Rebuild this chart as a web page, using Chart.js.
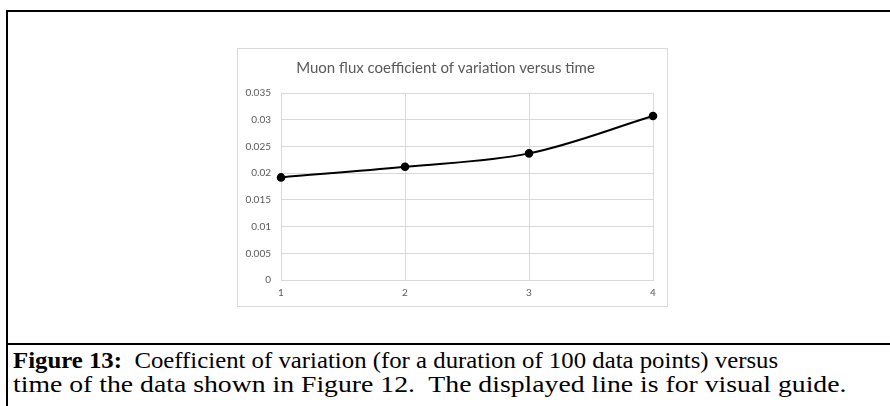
<!DOCTYPE html>
<html>
<head>
<meta charset="utf-8">
<script src="https://cdn.jsdelivr.net/npm/chart.js@4"></script>
<style>
  html, body { margin: 0; padding: 0; background: #fff; }
  body { width: 890px; height: 406px; position: relative; overflow: hidden; }
  #frame {
    position: absolute; left: 6px; top: 10px; width: 900px; height: 420px;
    border-top: 2px solid #000; border-left: 2px solid #000; box-sizing: border-box;
  }
  #sep { position: absolute; left: 6px; top: 343px; width: 900px; height: 2px; background: #000; }
  #box {
    position: absolute; left: 237px; top: 48px; width: 429px; height: 257px;
    border: 1px solid #d9d9d9;
  }
  .cap {
    position: absolute; left: 13px; display: inline-block;
    font-family: "Liberation Serif", "Times New Roman", serif; font-size: 23px;
    line-height: 24px; color: #000; white-space: nowrap;
    transform-origin: 0 0;
  }
  #cap1 { top: 349px; }
  #cap2 { top: 373px; }
</style>
</head>
<body>
<div id="frame"></div>
<div id="sep"></div>
<div id="box"><canvas id="myChart"></canvas></div>
<span class="cap" id="cap1" data-w="765"><b>Figure 13:</b>&nbsp; Coefficient of variation (for a duration of 100 data points) versus</span>
<span class="cap" id="cap2" data-w="833">time of the data shown in Figure 12.&nbsp; The displayed line is for visual guide.</span>
<script>
// chart data
const timeLabels = ['1', '2', '3', '4'];
const cvValues = [0.0192, 0.0212, 0.0237, 0.0307];
const yTicks = [0, 0.005, 0.01, 0.015, 0.02, 0.025, 0.03, 0.035];
const yTickLabels = ['0', '0.005', '0.01', '0.015', '0.02', '0.025', '0.03', '0.035'];
const chartTitle = 'Muon flux coefficient of variation versus time';

const gridColor = '#d9d9d9';
const textColor = '#595959';

// the scanned caption is stretched sideways, so fit each line to its width
document.querySelectorAll('.cap').forEach(el => {
    const w = Number(el.dataset.w);
    el.style.transform = 'scaleX(' + (w / el.offsetWidth) + ')';
});

new Chart('myChart', {
    type: 'line',
    data: {
        labels: timeLabels,
        datasets: [
            {
                data: cvValues,
                borderColor: '#000',
                backgroundColor: '#000',
                borderWidth: 2,
                tension: 0.35,
                pointRadius: 3.3,
                pointHoverRadius: 3.3,
                fill: false,
            }
        ],
    },
    options: {
        responsive: true,
        maintainAspectRatio: false,
        animation: false,
        layout: { padding: { left: 0, right: 14, top: 0, bottom: 0 } },
        plugins: {
            legend: { display: false },
            tooltip: { enabled: false },
            title: {
                display: true,
                text: chartTitle,
                color: textColor,
                font: { family: 'Lato', size: 15, weight: 'normal' },
                padding: { top: 10, bottom: 16 },
            },
        },
        scales: {
            x: {
                offset: false,
                grid: { color: gridColor, drawTicks: false, offset: false },
                border: { color: gridColor },
                ticks: { color: textColor, font: { family: 'Lato', size: 10 }, padding: 7, maxRotation: 0 },
                afterFit: function (scale) { scale.height = 26; },
            },
            y: {
                min: 0,
                max: 0.035,
                grid: { color: gridColor, drawTicks: false },
                border: { color: gridColor },
                afterBuildTicks: function (scale) {
                    scale.ticks = yTicks.map(v => ({ value: v }));
                },
                ticks: {
                    color: textColor,
                    font: { family: 'Lato', size: 10 },
                    padding: 10,
                    callback: function (value) {
                        const i = yTicks.findIndex(t => Math.abs(t - value) < 1e-9);
                        return i >= 0 ? yTickLabels[i] : '';
                    }
                },
                afterFit: function (scale) { scale.width = 43; },
            },
        }
    }
});
</script>
</body>
</html>
